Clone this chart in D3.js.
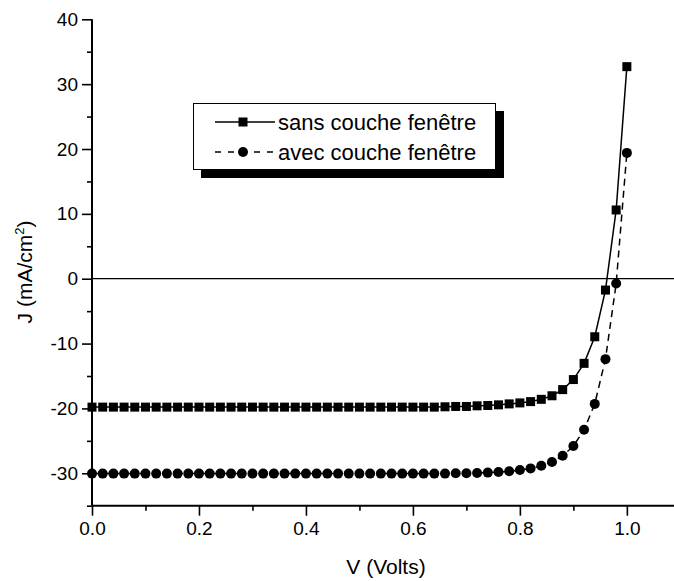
<!DOCTYPE html>
<html lang="fr">
<head>
  <meta charset="UTF-8">
  <title>J-V</title>
  <script src="https://d3js.org/d3.v7.min.js"></script>
  <style>
    body { margin: 0; background: #fff; }
    text { font-family: 'Liberation Sans', Arial, sans-serif; fill: #000; }
  </style>
</head>
<body>
  <div class="canvas"></div>
  <script>
    // tension (V)
    const volts = [0.00, 0.02, 0.04, 0.06, 0.08, 0.10, 0.12, 0.14, 0.16, 0.18,
                   0.20, 0.22, 0.24, 0.26, 0.28, 0.30, 0.32, 0.34, 0.36, 0.38,
                   0.40, 0.42, 0.44, 0.46, 0.48, 0.50, 0.52, 0.54, 0.56, 0.58,
                   0.60, 0.62, 0.64, 0.66, 0.68, 0.70, 0.72, 0.74, 0.76, 0.78,
                   0.80, 0.82, 0.84, 0.86, 0.88, 0.90, 0.92, 0.94, 0.96, 0.98, 1.00];
    // sans couche fenetre
    const jSans = [-19.8, -19.8, -19.8, -19.8, -19.8, -19.8, -19.8, -19.8, -19.8, -19.8,
                   -19.8, -19.8, -19.8, -19.8, -19.8, -19.8, -19.8, -19.8, -19.8, -19.8,
                   -19.8, -19.8, -19.8, -19.8, -19.8, -19.8, -19.8, -19.8, -19.8, -19.8,
                   -19.8, -19.8, -19.8, -19.75, -19.7, -19.7, -19.6, -19.55, -19.45, -19.3,
                   -19.15, -18.95, -18.6, -18.05, -17.1, -15.55, -13.05, -8.95, -1.75, 10.6, 32.7];
    // avec couche fenetre
    const jAvec = [-30.05, -30.05, -30.05, -30.05, -30.05, -30.05, -30.05, -30.05, -30.05, -30.05,
                   -30.05, -30.05, -30.05, -30.05, -30.05, -30.05, -30.05, -30.05, -30.05, -30.05,
                   -30.05, -30.05, -30.05, -30.05, -30.05, -30.05, -30.05, -30.05, -30.05, -30.05,
                   -30.05, -30.05, -30.05, -30.05, -30.0, -30.0, -29.95, -29.9, -29.8, -29.7,
                   -29.5, -29.25, -28.85, -28.25, -27.3, -25.8, -23.3, -19.3, -12.4, -0.75, 19.4];
    const xTicks = [0.0, 0.2, 0.4, 0.6, 0.8, 1.0];
    const yTicks = [-30, -20, -10, 0, 10, 20, 30, 40];
    const legendLabels = ['sans couche fenêtre', 'avec couche fenêtre'];

    const width = 674;
    const height = 581;

    const svg = d3.select('.canvas')
                  .append('svg')
                  .attr('width', width)
                  .attr('height', height);

    const x = d3.scaleLinear().domain([0, 1.09]).range([92, 675]);
    const y = d3.scaleLinear().domain([-35, 40]).range([505.7, 19.3]);

    // ligne J = 0
    svg.append('line')
       .attr('x1', x(0)).attr('x2', width)
       .attr('y1', y(0)).attr('y2', y(0))
       .attr('stroke', '#000').attr('stroke-width', 1.2);

    // axes (graduations mineures puis majeures)
    const xMinor = svg.append('g').attr('transform', `translate(0, ${y(-35)})`)
      .call(d3.axisBottom(x).tickValues(d3.range(0.1, 1.05, 0.2)).tickSize(5).tickFormat(''));
    const xAxisG = svg.append('g').attr('transform', `translate(0, ${y(-35)})`)
      .call(d3.axisBottom(x).tickValues(xTicks).tickSize(10).tickPadding(6)
              .tickFormat(d => d.toFixed(1)));
    const yMinor = svg.append('g').attr('transform', `translate(${x(0)}, 0)`)
      .call(d3.axisLeft(y).tickValues([-35, -25, -15, -5, 5, 15, 25, 35]).tickSize(5).tickFormat(''));
    const yAxisG = svg.append('g').attr('transform', `translate(${x(0)}, 0)`)
      .call(d3.axisLeft(y).tickValues(yTicks).tickSize(10).tickPadding(4)
              .tickFormat(d => String(d)));

    [xMinor, xAxisG, yMinor, yAxisG].forEach(g => {
      g.select('.domain').attr('stroke-width', 2);
      g.selectAll('.tick line').attr('stroke-width', 1.6);
      g.selectAll('text').style('font-size', '19px');
    });
    yAxisG.select('.domain').attr('d', `M-0,${y(-35)}V${y(40)}`);
    xAxisG.select('.domain').attr('d', `M${x(0)},0H${width}`);
    xMinor.select('.domain').remove();
    yMinor.select('.domain').remove();

    // titres des axes
    svg.append('text')
       .attr('x', 386).attr('y', 574)
       .attr('text-anchor', 'middle')
       .style('font-size', '21px')
       .text('V (Volts)');

    const yTitle = svg.append('text')
       .attr('transform', 'translate(32, 272) rotate(-90)')
       .attr('text-anchor', 'middle')
       .style('font-size', '21px');
    yTitle.append('tspan').text('J (mA/cm');
    yTitle.append('tspan').attr('dy', -8).style('font-size', '13px').text('2');
    yTitle.append('tspan').attr('dy', 8).text(')');

    const line = d3.line().x((d, i) => x(volts[i])).y(d => y(d));

    // courbe sans couche fenetre
    svg.append('path')
       .attr('fill', 'none').attr('stroke', '#000').attr('stroke-width', 1.5)
       .attr('d', line(jSans));
    svg.selectAll('rect.sans').data(jSans).enter()
       .append('rect').attr('class', 'sans')
       .attr('x', (d, i) => x(volts[i]) - 4.5)
       .attr('y', d => y(d) - 4.5)
       .attr('width', 9).attr('height', 9)
       .attr('fill', '#000');

    // courbe avec couche fenetre
    svg.append('path')
       .attr('fill', 'none').attr('stroke', '#000').attr('stroke-width', 1.5)
       .attr('stroke-dasharray', '7,5')
       .attr('d', line(jAvec));
    svg.selectAll('circle.avec').data(jAvec).enter()
       .append('circle').attr('class', 'avec')
       .attr('cx', (d, i) => x(volts[i]))
       .attr('cy', d => y(d))
       .attr('r', 5)
       .attr('fill', '#000');

    // legende avec ombre
    const lg = svg.append('g');
    lg.append('rect').attr('x', 201).attr('y', 111).attr('width', 303).attr('height', 67).attr('fill', '#000');
    lg.append('rect').attr('x', 193.5).attr('y', 103.5).attr('width', 302).attr('height', 66)
      .attr('fill', '#fff').attr('stroke', '#000').attr('stroke-width', 1);

    legendLabels.forEach((lab, i) => {
      const ly = 122 + i * 30;
      lg.append('line')
        .attr('x1', 215).attr('x2', 275).attr('y1', ly).attr('y2', ly)
        .attr('stroke', '#000').attr('stroke-width', 1.5)
        .attr('stroke-dasharray', i === 0 ? null : '6,7');
      if (i === 0) {
        lg.append('rect').attr('x', 238.5).attr('y', ly - 4.5).attr('width', 9).attr('height', 9).attr('fill', '#000');
      } else {
        lg.append('circle').attr('cx', 243).attr('cy', ly).attr('r', 5).attr('fill', '#000');
      }
      lg.append('text')
        .attr('x', 278).attr('y', ly + 7.5)
        .style('font-size', '22px')
        .text(lab);
    });
  </script>
</body>
</html>
